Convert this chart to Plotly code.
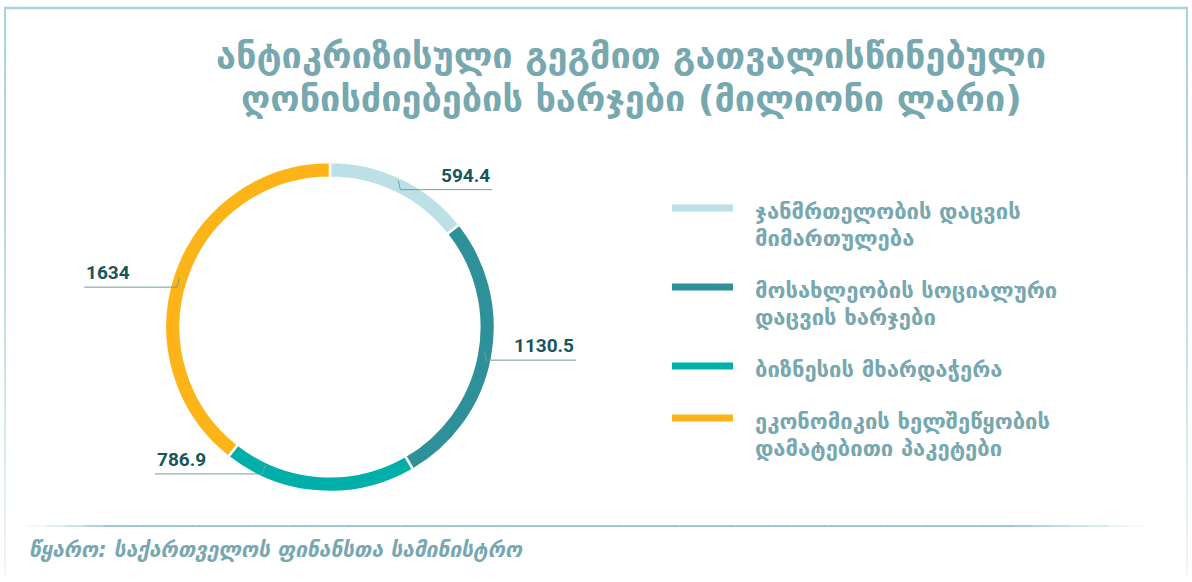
import math
import plotly.graph_objects as go

# ---------------- data ----------------
categories = [
    "ჯანმრთელობის დაცვის\nმიმართულება",
    "მოსახლეობის სოციალური\nდაცვის ხარჯები",
    "ბიზნესის მხარდაჭერა",
    "ეკონომიკის ხელშეწყობის\nდამატებითი პაკეტები",
]
values = [594.4, 1130.5, 786.9, 1634]
value_labels = ["594.4", "1130.5", "786.9", "1634"]
colors = ["#bde0e7", "#2e9099", "#00afa9", "#fdb418"]

title_lines = [
    "ანტიკრიზისული გეგმით გათვალისწინებული",
    "ღონისძიებების ხარჯები (მილიონი ლარი)",
]
source_text = "წყარო: საქართველოს ფინანსთა სამინისტრო"

# ---------------- layout constants ----------------
W, H = 1192, 582
CX, CY, R = 330, 327, 165
label_pos_frac = [0.5, 0.5, 0.8, 0.48]
leader_lens = [92, 90, 108, 93]
TEXT_COL = "#77a7af"
NUM_COL = "#15575b"
LINE_COL = "#6e9ea4"
FONT = "DejaVu Sans"


def px(x):
    return x / W


def py(y):
    return 1 - y / H


fig = go.Figure()
fig.add_trace(go.Pie(
    values=values,
    labels=[c.replace("\n", " ") for c in categories],
    hole=0.905,
    sort=False,
    direction="clockwise",
    rotation=0,
    marker=dict(colors=colors, line=dict(color="white", width=2.5)),
    textinfo="none",
    hoverinfo="label+value",
    showlegend=False,
    domain=dict(x=[px(CX - R), px(CX + R)], y=[py(CY + R), py(CY - R)]),
))

shapes = []
annotations = []

# ---- value labels with leader lines ----
total = sum(values)
cum = 0
for v, lab, f, L in zip(values, value_labels, label_pos_frac, leader_lens):
    ang = (cum + f * v) / total * 2 * math.pi
    cum += v
    r = 157
    ax = CX + r * math.sin(ang)
    ay = CY - r * math.cos(ang)
    side = 1 if math.sin(ang) >= 0 else -1
    uy = ay + 4
    shapes.append(dict(type="line", xref="paper", yref="paper",
                       x0=px(ax), y0=py(ay - 5), x1=px(ax + side * 2), y1=py(uy),
                       line=dict(color=LINE_COL, width=1)))
    xend = ax + side * (2 + L)
    shapes.append(dict(type="line", xref="paper", yref="paper",
                       x0=px(ax + side * 2), y0=py(uy), x1=px(xend), y1=py(uy),
                       line=dict(color=LINE_COL, width=1)))
    annotations.append(dict(
        xref="paper", yref="paper", x=px(xend), y=py(uy - 1),
        xanchor="right" if side > 0 else "left", yanchor="bottom",
        text="<b>" + lab + "</b>", showarrow=False,
        font=dict(family="Roboto", size=19, color=NUM_COL)))

# ---- custom legend ----
ly = 208
for cat, col in zip(categories, colors):
    lines = cat.split("\n")
    shapes.append(dict(type="line", xref="paper", yref="paper",
                       x0=px(672), x1=px(733), y0=py(ly), y1=py(ly),
                       line=dict(color=col, width=7)))
    for i, t in enumerate(lines):
        annotations.append(dict(
            xref="paper", yref="paper", x=px(753), y=py(ly + 3 + i * 27),
            xanchor="left", yanchor="middle", text="<b>" + t + "</b>",
            showarrow=False, font=dict(family=FONT, size=22, color=TEXT_COL)))
    ly += 27 * len(lines) + 25

# ---- title ----
for i, t in enumerate(title_lines):
    annotations.append(dict(
        xref="paper", yref="paper", x=px(631), y=py(55 + i * 43),
        xanchor="center", yanchor="middle", text="<b>" + t + "</b>",
        showarrow=False, font=dict(family=FONT, size=36, color=TEXT_COL)))

# ---- source ----
annotations.append(dict(
    xref="paper", yref="paper", x=px(27), y=py(550),
    xanchor="left", yanchor="middle", text="<b><i>" + source_text + "</i></b>",
    showarrow=False, font=dict(family=FONT, size=21, color=TEXT_COL)))

# ---- frame ----
FRAME = "#a9d2da"
shapes.append(dict(type="line", xref="paper", yref="paper",
                   x0=px(4), x1=px(1188), y0=py(8), y1=py(8),
                   line=dict(color=FRAME, width=2.5)))
N = 30
for k in range(N):
    y0 = 8 + (575 - 8) * k / N
    y1 = 8 + (575 - 8) * (k + 1) / N
    op = max(0.0, 1 - (k / N) ** 1.5 * 0.85)
    for xx in (5, 1187):
        shapes.append(dict(type="line", xref="paper", yref="paper",
                           x0=px(xx), x1=px(xx), y0=py(y0), y1=py(y1),
                           line=dict(color=FRAME, width=2), opacity=op))
# separator with faded ends
N = 60
for k in range(N):
    x0 = 28 + (1145 - 28) * k / N
    x1 = 28 + (1145 - 28) * (k + 1) / N
    t = (k + 0.5) / N
    op = min(1.0, t / 0.08) * min(1.0, (1 - t) / 0.12)
    shapes.append(dict(type="line", xref="paper", yref="paper",
                       x0=px(x0), x1=px(x1), y0=py(526), y1=py(526),
                       line=dict(color="#9cc7d0", width=2), opacity=op))

fig.update_layout(
    width=W, height=H,
    margin=dict(l=0, r=0, t=0, b=0),
    paper_bgcolor="white", plot_bgcolor="white",
    shapes=shapes, annotations=annotations,
)

fig.write_html("out.html",
               config={"displayModeBar": False},
               post_script="document.body.style.margin='0';"
                           "document.body.style.overflow='hidden';")
